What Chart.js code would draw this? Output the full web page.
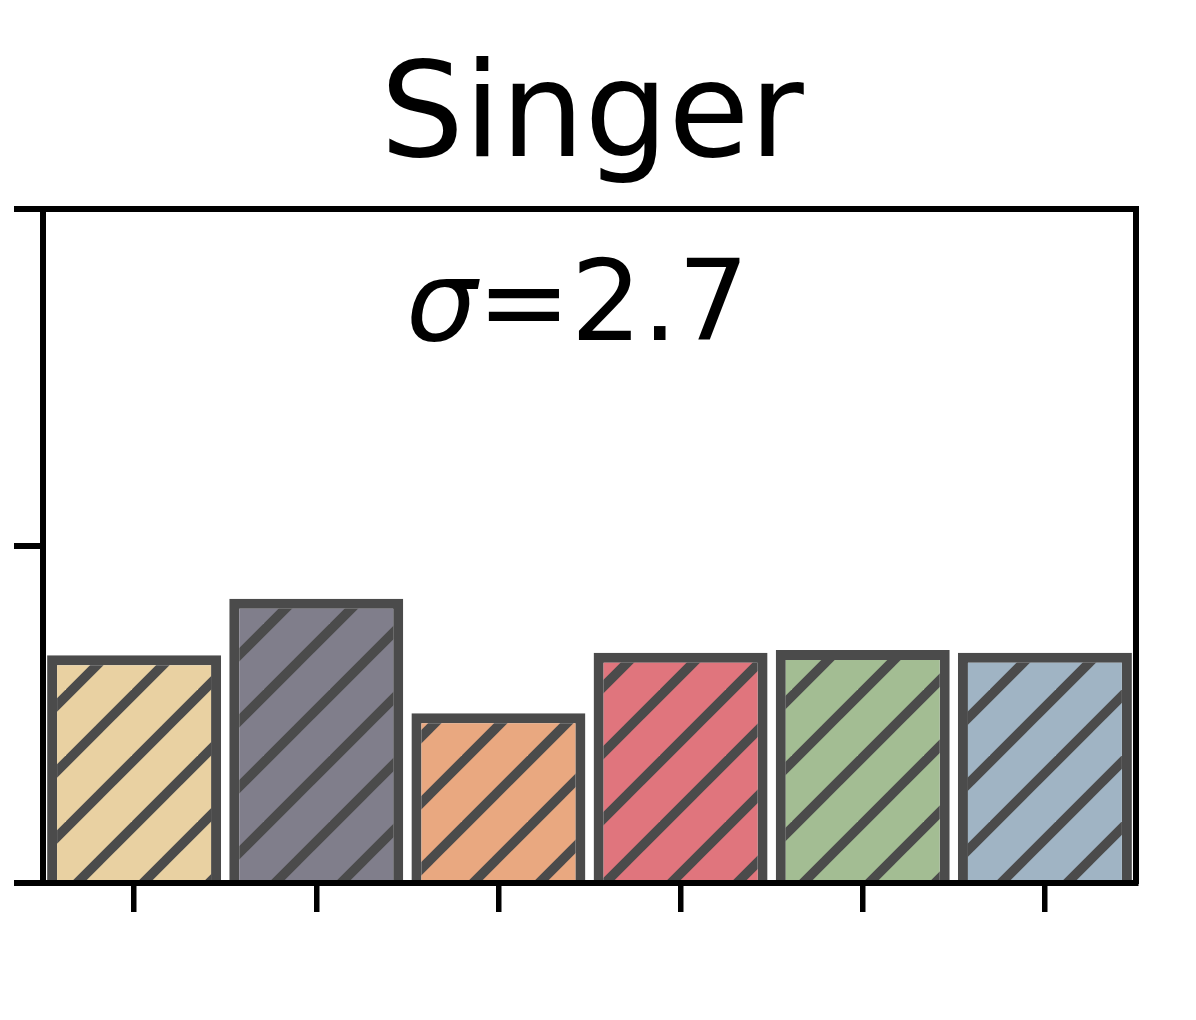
<!DOCTYPE html>
<html>
<head>
<meta charset="utf-8">
<script src="https://cdn.jsdelivr.net/npm/chart.js@4.4.1/dist/chart.umd.min.js"></script>
<style>
  html, body { margin: 0; padding: 0; background: #fff; }
  #wrap { width: 1196px; height: 1020px; position: relative; }
</style>
</head>
<body>
<div id="wrap"><canvas id="chart"></canvas></div>
<script>
// data (axis runs 0..50, labels hidden)
const categories = ['1', '2', '3', '4', '5', '6'];
const values = [16.9, 21.1, 12.6, 17.1, 17.3, 17.1];
const yTicks = [0, 25, 50];
const chartTitle = 'Singer';
const sigmaLabel = ['σ', '=2.7'];

const fills = ['#e9d1a2', '#807e8b', '#e9a880', '#e0757d', '#a3bd93', '#a0b4c4'];
const edge = '#4b4b4b';

// "/" hatch, anchored to the canvas so every bar shares the same phase
function hatch(color) {
  const s = 66;
  const c = document.createElement('canvas');
  c.width = s; c.height = s;
  const g = c.getContext('2d');
  g.fillStyle = color;
  g.fillRect(0, 0, s, s);
  g.strokeStyle = edge;
  g.lineWidth = 9.5;
  for (let k = -1; k <= 2; k++) {
    const off = 36 + k * s;
    g.beginPath();
    g.moveTo(off + 20, -20);
    g.lineTo(-20, off + 20);
    g.stroke();
  }
  return g.createPattern(c, 'repeat');
}

const sigmaText = {
  id: 'sigmaText',
  afterDatasetsDraw(chart) {
    const { ctx, chartArea } = chart;
    ctx.save();
    ctx.fillStyle = '#000';
    ctx.textBaseline = 'alphabetic';
    ctx.textAlign = 'left';
    const it = 'italic 112px "DejaVu Sans"';
    const up = '112px "DejaVu Sans"';
    ctx.font = it;
    const w1 = ctx.measureText(sigmaLabel[0]).width;
    ctx.font = up;
    const w2 = ctx.measureText(sigmaLabel[1]).width;
    const cx = (chartArea.left + chartArea.right) / 2 - 12;
    const x0 = cx - (w1 + w2) / 2;
    const y = chartArea.top + 131;
    ctx.font = it;
    ctx.fillText(sigmaLabel[0], x0, y);
    ctx.font = up;
    ctx.fillText(sigmaLabel[1], x0 + w1, y);
    ctx.restore();
  }
};

const spine = { width: 6, color: '#000', z: 1 };

new Chart(document.getElementById('chart').getContext('2d'), {
  type: 'bar',
  data: {
    labels: categories,
    datasets: [{
      data: values,
      backgroundColor: fills.map(hatch),
      borderColor: edge,
      borderWidth: 10,
      borderSkipped: 'start',
      barPercentage: 0.955,
      categoryPercentage: 1
    }]
  },
  options: {
    responsive: true,
    maintainAspectRatio: false,
    animation: false,
    layout: { padding: { left: 0, right: 12, top: 0, bottom: 0 } },
    plugins: {
      legend: { display: false },
      tooltip: { enabled: false },
      title: {
        display: true,
        text: chartTitle,
        color: '#000',
        font: { family: 'DejaVu Sans', size: 132, weight: 'normal' },
        padding: { top: 43, bottom: 8 }
      }
    },
    scales: {
      x: {
        offset: true,
        grid: { offset: false, drawOnChartArea: false, tickLength: 29, lineWidth: 5.5, color: '#000' },
        ticks: { display: false },
        border: spine,
        afterFit(s) { s.height = 137; }
      },
      x2: {
        type: 'category',
        position: 'top',
        offset: true,
        grid: { display: false },
        ticks: { display: false },
        border: spine,
        afterFit(s) { s.height = 0; }
      },
      y: {
        min: yTicks[0],
        max: yTicks[yTicks.length - 1],
        afterBuildTicks(s) { s.ticks = yTicks.map(v => ({ value: v })); },
        grid: { drawOnChartArea: false, tickLength: 29, lineWidth: 6, color: '#000' },
        ticks: { display: false },
        border: spine,
        afterFit(s) { s.width = 43; }
      },
      y2: {
        position: 'right',
        min: yTicks[0],
        max: yTicks[yTicks.length - 1],
        grid: { display: false },
        ticks: { display: false },
        border: spine,
        afterFit(s) { s.width = 48; }
      }
    }
  },
  plugins: [sigmaText]
});
</script>
</body>
</html>
